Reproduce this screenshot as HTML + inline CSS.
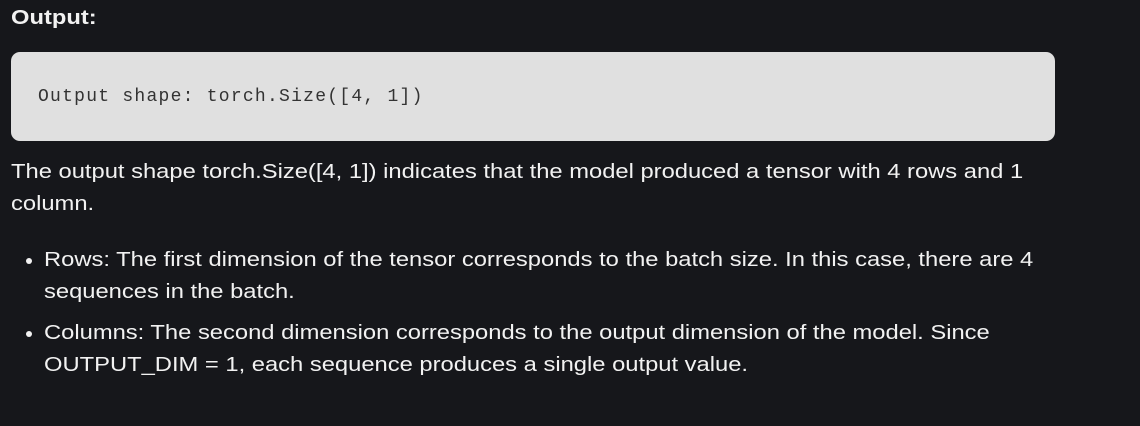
<!DOCTYPE html>
<html><head><style>
body{margin:0;width:1140px;height:426px;background:#16171b;overflow:hidden;font-family:"Liberation Sans",sans-serif;color:#f2f2f2}
.t{position:absolute;white-space:nowrap;font-size:20px;line-height:24px;transform-origin:0 0;transform:scaleX(1.187)}
.b{position:absolute;width:6px;height:6px;border-radius:50%;background:#f2f2f2}
.code{position:absolute;left:11px;top:52px;width:1044px;height:89px;background:#e0e0e0;border-radius:9px}
.code span{position:absolute;left:27px;top:35px;font-family:"Liberation Mono",monospace;font-size:18px;color:#333;letter-spacing:1.25px;white-space:nowrap}
</style></head><body>
<div class="t" style="left:11px;top:6px;font-weight:bold">Output:</div>
<div class="code"><span>Output shape: torch.Size([4, 1])</span></div>
<div class="t" style="left:11px;top:160px">The output shape torch.Size([4, 1]) indicates that the model produced a tensor with 4 rows and 1</div>
<div class="t" style="left:11px;top:192px">column.</div>
<div class="b" style="left:26px;top:258px"></div>
<div class="t" style="left:44px;top:248px">Rows: The first dimension of the tensor corresponds to the batch size. In this case, there are 4</div>
<div class="t" style="left:44px;top:280px">sequences in the batch.</div>
<div class="b" style="left:26px;top:331px"></div>
<div class="t" style="left:44px;top:321px">Columns: The second dimension corresponds to the output dimension of the model. Since</div>
<div class="t" style="left:44px;top:353px">OUTPUT_DIM = 1, each sequence produces a single output value.</div>
</body></html>
